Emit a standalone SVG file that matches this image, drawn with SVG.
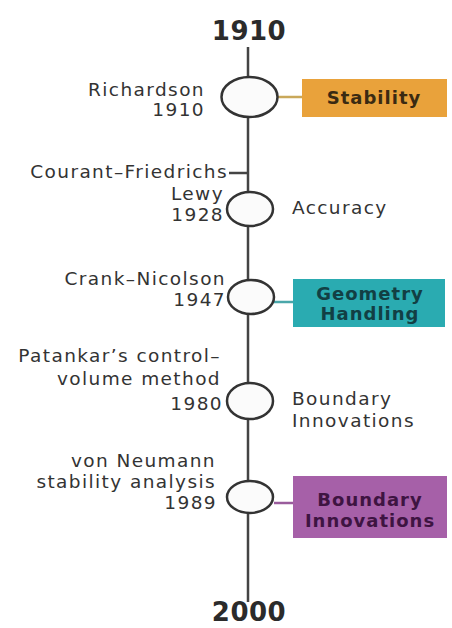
<svg xmlns="http://www.w3.org/2000/svg" width="452" height="628" viewBox="0 0 452 628">
<style>
.t{font-family:"DejaVu Sans","Open Sans",sans-serif;font-size:18.5px;letter-spacing:1.4px;fill:#333;}
.r{text-anchor:end;}
.yr{font-family:"DejaVu Sans","Open Sans",sans-serif;font-size:26px;font-weight:bold;letter-spacing:0.5px;fill:#2b2b2b;text-anchor:middle;}
.bx{font-family:"DejaVu Sans","Open Sans",sans-serif;font-size:18px;letter-spacing:1px;font-weight:bold;text-anchor:middle;}
.ln{stroke:#444;stroke-width:2.5;fill:none;}
.nd{stroke:#333;stroke-width:2.5;fill:#fbfbfb;}
</style>
<rect width="452" height="628" fill="#fff"/>
<g id="connectors">
<line class="ln" x1="248" y1="47" x2="248" y2="602"/>
<line class="ln" x1="229" y1="173" x2="248" y2="173"/>
<line x1="278" y1="97" x2="302" y2="97" stroke="#c9a85a" stroke-width="2.5"/>
<line x1="274" y1="302" x2="293" y2="302" stroke="#4aa7aa" stroke-width="2.5"/>
<line x1="274" y1="503" x2="293" y2="503" stroke="#9a5c9c" stroke-width="2.5"/>
</g>
<g id="start"><text class="yr" x="249" y="40">1910</text></g>
<g id="end"><text class="yr" x="249" y="621">2000</text></g>
<g id="n1">
<ellipse class="nd" cx="249.5" cy="97" rx="28" ry="20"/>
<text class="t r" x="205" y="96">Richardson</text>
<text class="t r" x="205" y="116">1910</text>
</g>
<g id="b1">
<rect x="302" y="79" width="145" height="38" fill="#E9A23B"/>
<text class="bx" x="374" y="104" fill="#3a2a12">Stability</text>
</g>
<g id="n2">
<ellipse class="nd" cx="250" cy="209" rx="23" ry="17"/>
<text class="t r" x="228" y="178">Courant–Friedrichs</text>
<text class="t r" x="224" y="200">Lewy</text>
<text class="t r" x="224" y="221">1928</text>
<text class="t" x="292" y="214">Accuracy</text>
</g>
<g id="n3">
<ellipse class="nd" cx="251" cy="297" rx="23" ry="17"/>
<text class="t r" x="226" y="285">Crank–Nicolson</text>
<text class="t r" x="226" y="306">1947</text>
</g>
<g id="b3">
<rect x="293" y="279" width="152" height="48" fill="#2AABB1"/>
<text class="bx" x="370" y="300" fill="#123f44">Geometry</text>
<text class="bx" x="370" y="320" fill="#123f44">Handling</text>
</g>
<g id="n4">
<ellipse class="nd" cx="250" cy="401" rx="23" ry="18"/>
<text class="t r" x="221" y="362">Patankar’s control–</text>
<text class="t r" x="221" y="385">volume method</text>
<text class="t r" x="223" y="410">1980</text>
<text class="t" x="292" y="405">Boundary</text>
<text class="t" x="292" y="427">Innovations</text>
</g>
<g id="n5">
<ellipse class="nd" cx="250" cy="497" rx="23" ry="16"/>
<text class="t r" x="216" y="467">von Neumann</text>
<text class="t r" x="216" y="488">stability analysis</text>
<text class="t r" x="217" y="509">1989</text>
</g>
<g id="b5">
<rect x="293" y="476" width="154" height="62" fill="#A660A8"/>
<text class="bx" x="370" y="506" fill="#3e1442">Boundary</text>
<text class="bx" x="370" y="527" fill="#3e1442">Innovations</text>
</g>
</svg>
